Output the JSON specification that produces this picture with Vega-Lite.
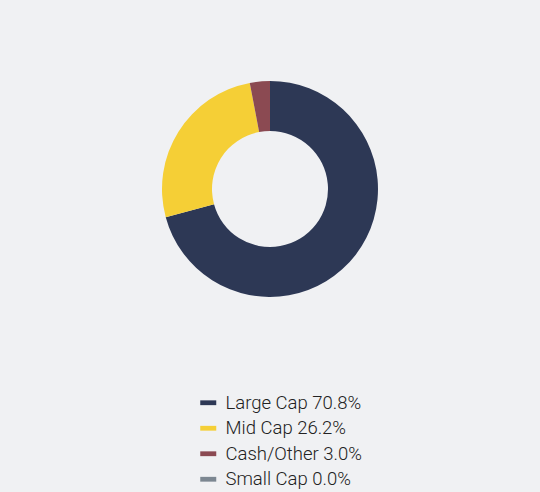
{
  "$schema": "https://vega.github.io/schema/vega-lite/v6.json",
  "width": 540,
  "height": 378,
  "autosize": {"type": "none"},
  "padding": {"top": 0, "left": 0, "right": 0, "bottom": 114},
  "background": "#f0f1f3",
  "config": {"view": {"stroke": null}, "font": "Roboto"},
  "data": {
    "values": [
      {"label": "Large Cap 70.8%", "pct": 70.8, "order": 1},
      {"label": "Mid Cap 26.2%", "pct": 26.2, "order": 2},
      {"label": "Cash/Other 3.0%", "pct": 3.0, "order": 3},
      {"label": "Small Cap 0.0%", "pct": 0.0, "order": 4}
    ]
  },
  "mark": {"type": "arc", "innerRadius": 58, "outerRadius": 108},
  "encoding": {
    "theta": {"field": "pct", "type": "quantitative", "stack": true},
    "order": {"field": "order", "type": "quantitative"},
    "color": {
      "field": "label",
      "type": "nominal",
      "scale": {
        "domain": ["Large Cap 70.8%", "Mid Cap 26.2%", "Cash/Other 3.0%", "Small Cap 0.0%"],
        "range": ["#2d3855", "#f5cf36", "#8b4a52", "#7c8791"]
      },
      "legend": {
        "orient": "none",
        "legendX": 199,
        "legendY": 393.5,
        "title": null,
        "symbolType": "M-1,-0.3L1,-0.3L1,0.3L-1,0.3Z",
        "symbolSize": 256,
        "symbolStrokeWidth": 0,
        "labelFont": "Roboto",
        "labelFontSize": 18.5,
        "labelFontWeight": 300,
        "labelColor": "#222222",
        "labelOffset": 8,
        "rowPadding": 6.5,
        "labelLimit": 300
      }
    }
  }
}
